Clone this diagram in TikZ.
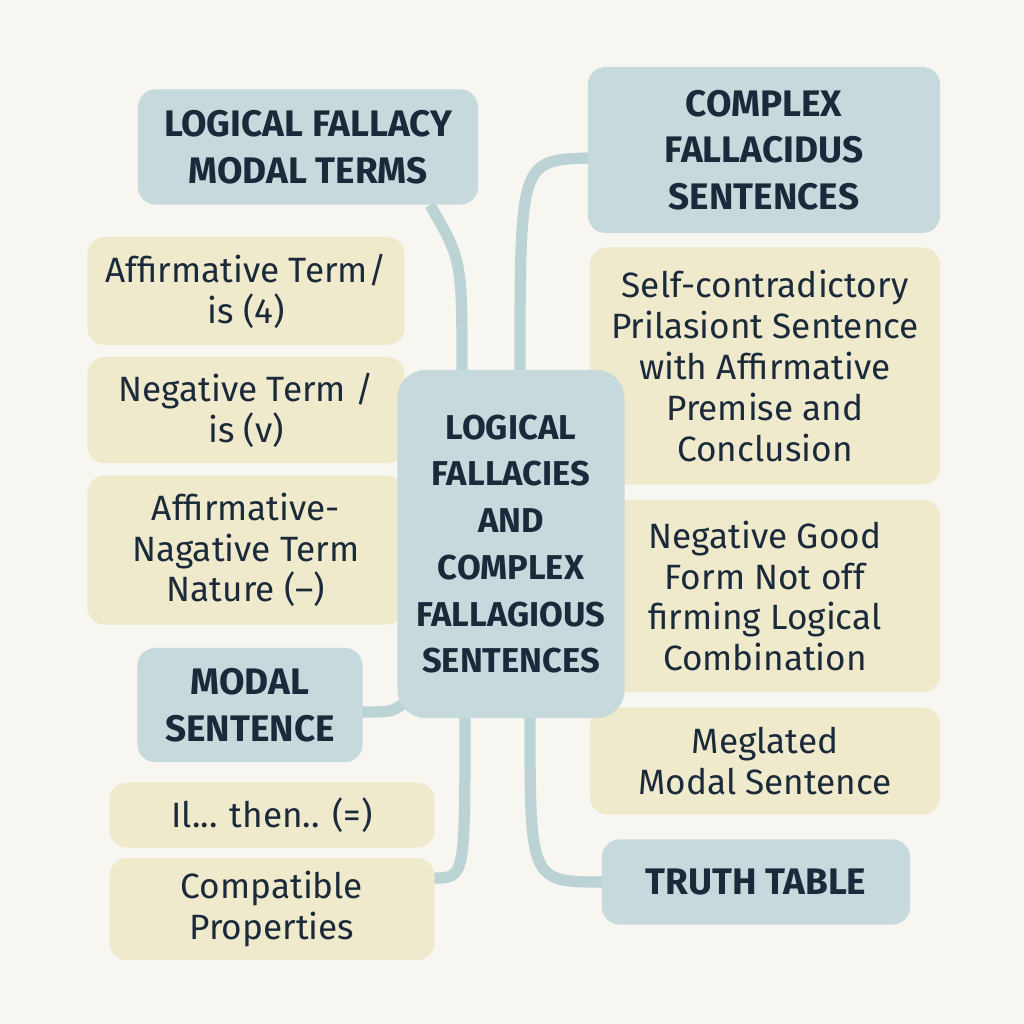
\documentclass[tikz,border=0pt]{standalone}
\usepackage{fontspec}
\setmainfont{Fira Sans}
\usetikzlibrary{positioning}
\definecolor{bgcol}{HTML}{F8F6F1}
\definecolor{bluebox}{HTML}{C6DADD}
\definecolor{yelbox}{HTML}{F0EACC}
\definecolor{linkcol}{HTML}{BCD3D6}
\definecolor{inkcol}{HTML}{1B2A3A}
\tikzset{
  head/.style={fill=bluebox, rounded corners=5pt, align=center, text=inkcol,
    font=\fontsize{10.5}{13.3}\selectfont\bfseries, inner sep=2pt},
  leaf/.style={fill=yelbox, rounded corners=5pt, align=center, text=inkcol,
    font=\fontsize{10}{11.6}\selectfont, inner sep=2pt},
  link/.style={draw=linkcol, line width=3.2pt}
}
\begin{document}
\begin{tikzpicture}[x=0.01cm, y=-0.01cm]
\fill[bgcol] (0,0) rectangle (1024,1024);
\useasboundingbox (0,0) rectangle (1024,1024);

% connectors first
\coordinate (ctop1) at (462,372);
\coordinate (ctop2) at (520,372);
\coordinate (cleft) at (412,695);
\coordinate (cbot1) at (465,716);
\coordinate (cbot2) at (530,716);
\coordinate (lfmtfoot) at (430,205);
\coordinate (cfsside) at (590,158);
\coordinate (modside) at (362,712);
\coordinate (compside) at (434,878);
\coordinate (truthside) at (603,882);
\draw[link] (lfmtfoot) .. controls (462,260) .. (ctop1);
\draw[link] (ctop2) .. controls (520,160) .. (cfsside);
\draw[link] (modside) .. controls (395,712) .. (cleft);
\draw[link] (cbot1) .. controls (465,878) .. (compside);
\draw[link] (cbot2) .. controls (530,882) .. (truthside);

% left column
\node[head, minimum width=3.4cm, minimum height=1.15cm] (lfmt) at (308,147) {LOGICAL FALLACY\\MODAL TERMS};
\node[leaf, minimum width=3.17cm, minimum height=1.08cm] (aff) at (246,291) {Affirmative Term/\\is (4)};
\node[leaf, minimum width=3.17cm, minimum height=1.06cm] (neg) at (246,410) {Negative Term /\\is (v)};
\node[leaf, minimum width=3.17cm, minimum height=1.49cm] (affneg) at (246,550) {Affirmative-\\Nagative Term\\Nature (--)};
\node[head, minimum width=2.25cm, minimum height=1.14cm] (modal) at (250,705) {MODAL\\SENTENCE};
\node[leaf, minimum width=3.25cm, minimum height=0.65cm] (ifthen) at (272,815) {Il... then.. (=)};
\node[leaf, minimum width=3.25cm, minimum height=1.02cm] (compat) at (272,909) {Compatible\\Properties};

% right column
\node[head, minimum width=3.52cm, minimum height=1.66cm] (cfs) at (764,150) {COMPLEX\\FALLACIDUS\\SENTENCES};
\node[leaf, minimum width=3.5cm, minimum height=2.37cm] (selfc) at (765,366) {Self-contradictory\\Prilasiont Sentence\\with Affirmative\\Premise and\\Conclusion};
\node[leaf, minimum width=3.5cm, minimum height=1.92cm] (neggood) at (765,596) {Negative Good\\Form Not off\\firming Logical\\Combination};
\node[leaf, minimum width=3.5cm, minimum height=1.07cm] (megl) at (765,761) {Meglated\\Modal Sentence};
\node[head, minimum width=3.08cm, minimum height=0.85cm] (truth) at (756,882) {TRUTH TABLE};

% centre
\node[head, rounded corners=8pt, font=\fontsize{9.8}{13.3}\selectfont\bfseries, minimum width=2.27cm, minimum height=3.48cm] (centre) at (511,544) {LOGICAL\\FALLACIES\\AND\\COMPLEX\\FALLAGIOUS\\SENTENCES};
\end{tikzpicture}
\end{document}
